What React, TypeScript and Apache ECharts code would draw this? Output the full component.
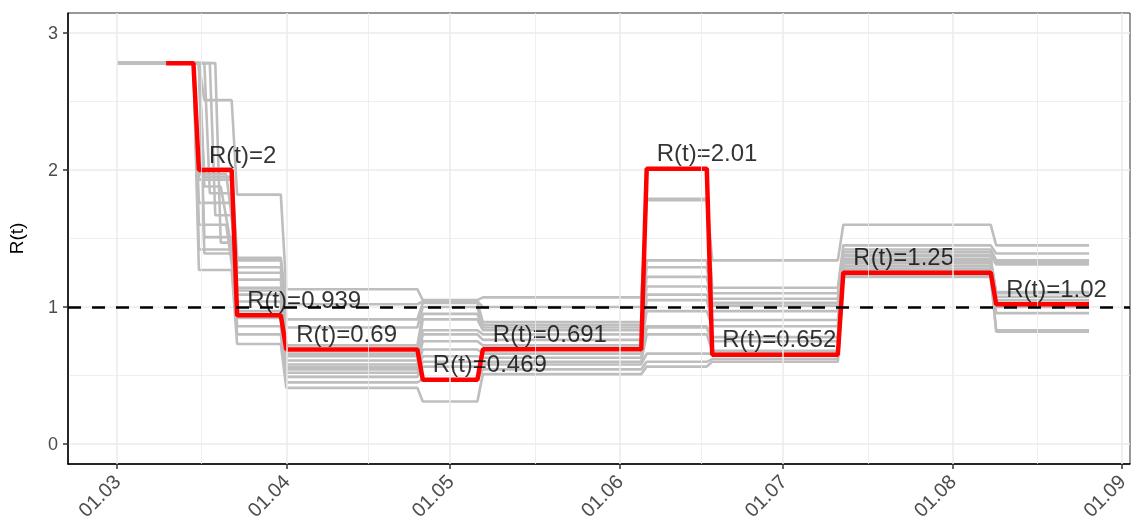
import React, { useEffect, useRef } from "react";
import * as echarts from "echarts";

// ---- data ----
const originDate = "2020-03-01";
const tickDates = ["2020-03-01", "2020-04-01", "2020-05-01", "2020-06-01", "2020-07-01", "2020-08-01", "2020-09-01"];
const yTicks = [0, 1, 2, 3];

// red (final estimate) step segments
const redStarts = ["2020-03-10", "2020-03-16", "2020-03-23", "2020-04-01", "2020-04-26", "2020-05-07", "2020-06-06", "2020-06-18", "2020-07-12", "2020-08-09"];
const redEnds = ["2020-03-15", "2020-03-22", "2020-03-31", "2020-04-25", "2020-05-06", "2020-06-05", "2020-06-17", "2020-07-11", "2020-08-08", "2020-08-26"];
const redValues = [2.78, 2, 0.939, 0.69, 0.469, 0.691, 2.01, 0.652, 1.25, 1.02];

// grey (sensitivity) lines: start value, last day at start value, last day of 2nd period
const grayStart = "2020-03-01";
const grayStartValue = 2.78;
const grayDropDates = ["2020-03-16", "2020-03-15", "2020-03-15", "2020-03-16", "2020-03-15", "2020-03-16", "2020-03-17", "2020-03-15", "2020-03-18", "2020-03-15", "2020-03-16", "2020-03-19", "2020-03-15", "2020-03-16", "2020-03-15"];
const grayP2EndDates = ["2020-03-22", "2020-03-22", "2020-03-21", "2020-03-22", "2020-03-22", "2020-03-20", "2020-03-22", "2020-03-22", "2020-03-22", "2020-03-21", "2020-03-22", "2020-03-22", "2020-03-22", "2020-03-22", "2020-03-22"];
const grayP2 = [2.51, 2.01, 1.97, 1.95, 1.93, 1.88, 1.83, 1.76, 1.67, 1.6, 1.51, 1.47, 1.42, 1.39, 1.27];
const grayP3 = [1.82, 1.36, 1.34, 1.29, 1.25, 1.2, 1.14, 1.12, 1.09, 1.04, 0.97, 0.92, 0.86, 0.8, 0.73];
const grayP4 = [1.13, 1.02, 0.91, 0.85, 0.72, 0.66, 0.64, 0.61, 0.58, 0.56, 0.545, 0.52, 0.49, 0.45, 0.41];
const grayP5 = [1.05, 1.04, 1.03, 1.0, 0.95, 0.91, 0.83, 0.8, 0.75, 0.69, 0.64, 0.6, 0.565, 0.47, 0.31];
const grayP6 = [1.07, 1.0, 0.89, 0.87, 0.85, 0.83, 0.8, 0.76, 0.72, 0.66, 0.63, 0.6, 0.58, 0.545, 0.51];
const grayP7 = [1.79, 1.78, 1.34, 1.29, 1.22, 1.15, 1.09, 1.05, 0.97, 0.86, 0.85, 0.8, 0.66, 0.6, 0.565];
const grayP8 = [1.34, 1.14, 1.1, 1.06, 1.03, 1.01, 0.97, 0.905, 0.86, 0.78, 0.75, 0.68, 0.66, 0.62, 0.6];
const grayP9 = [1.6, 1.45, 1.42, 1.4, 1.38, 1.37, 1.35, 1.34, 1.33, 1.32, 1.3, 1.28, 1.27, 1.23, 1.22];
const grayP10 = [1.45, 1.39, 1.34, 1.33, 1.32, 1.31, 1.11, 1.1, 1.075, 1.05, 1.03, 1.0, 0.955, 0.83, 0.82];
const grayLater = [grayP3, grayP4, grayP5, grayP6, grayP7, grayP8, grayP9, grayP10];

const thresholdValue = 1;

// ---- helpers ----
const toDay = (s: string) => {
  const [y, m, d] = s.split("-").map(Number);
  const [oy, om, od] = originDate.split("-").map(Number);
  return (Date.UTC(y, m - 1, d) - Date.UTC(oy, om - 1, od)) / 86400000;
};
const addDays = (s: string, n: number) => {
  const [y, m, d] = s.split("-").map(Number);
  const t = new Date(Date.UTC(y, m - 1, d + n));
  return t.toISOString().slice(0, 10);
};
const stepPoints = (starts: string[], ends: string[], vals: number[]) => {
  const pts: number[][] = [];
  vals.forEach((v, i) => {
    pts.push([toDay(starts[i]), v]);
    pts.push([toDay(ends[i]), v]);
  });
  return pts;
};

const tickDays = tickDates.map(toDay);
const minorDays = tickDays.slice(1).map((d, i) => (d + tickDays[i]) / 2);
const dayLabel = (day: number) => {
  const idx = tickDays.indexOf(day);
  if (idx < 0) return "";
  const [, m, d] = tickDates[idx].split("-");
  return `${d}.${m}`;
};

const FONT = "'Liberation Sans', Arial, Helvetica, sans-serif";

export default function App() {
  const ref = useRef<HTMLDivElement>(null);
  useEffect(() => {
    const chart = echarts.init(ref.current!, null, { renderer: "svg" });

    const graySeries = grayP2.map((_, i) => {
      const starts = [grayStart, addDays(grayDropDates[i], 1), ...redStarts.slice(2)];
      const ends = [grayDropDates[i], grayP2EndDates[i], ...redEnds.slice(2)];
      const vals = [grayStartValue, grayP2[i], ...grayLater.map((p) => p[i])];
      return {
        type: "line",
        data: stepPoints(starts, ends, vals),
        showSymbol: false,
        symbol: "none",
        silent: true,
        z: 2,
        lineStyle: { color: "#bebebe", width: 2.6 },
      };
    });

    const option: any = {
      animation: false,
      textStyle: { fontFamily: FONT },
      grid: {
        left: 68,
        right: 3,
        top: 13,
        bottom: 62,
        containLabel: false,
        outerBoundsMode: "none",
        show: true,
        borderColor: "#333333",
        borderWidth: 1,
        backgroundColor: "#ffffff",
      },
      xAxis: {
        type: "value",
        min: -8.97,
        max: 185.5,
        splitLine: { show: false },
        axisLine: { show: true, onZero: false, lineStyle: { color: "#000", width: 1.5 } },
        axisTick: { show: true, customValues: tickDays, length: 5, lineStyle: { color: "#333", width: 1.5 } },
        axisLabel: {
          show: true,
          customValues: tickDays,
          formatter: (v: number) => dayLabel(v),
          rotate: 45,
          margin: 14,
          color: "#4d4d4d",
          fontSize: 20,
          fontFamily: FONT,
        },
      },
      yAxis: {
        type: "value",
        min: -0.146,
        max: 3.146,
        splitNumber: 4,
        name: "R(t)",
        nameLocation: "middle",
        nameGap: 42,
        nameTextStyle: { color: "#000", fontSize: 19, fontFamily: FONT },
        axisLine: { show: true, onZero: false, lineStyle: { color: "#000", width: 1.5 } },
        axisTick: { show: true, customValues: yTicks, length: 5, lineStyle: { color: "#333", width: 1.5 } },
        axisLabel: {
          customValues: yTicks,
          color: "#4d4d4d",
          fontSize: 18,
          margin: 10,
          fontFamily: FONT,
        },
        splitLine: { show: true, lineStyle: { color: "#ebebeb", width: 1.5 } },
        minorTick: { show: false, splitNumber: 2 },
        minorSplitLine: { show: true, lineStyle: { color: "#ebebeb", width: 0.8 } },
      },
      series: [
        {
          type: "line",
          data: [],
          silent: true,
          z: 0,
          markLine: {
            silent: true,
            symbol: ["none", "none"],
            label: { show: false },
            animation: false,
            data: [
              ...tickDays.map((d) => ({ xAxis: d, lineStyle: { color: "#ebebeb", width: 1.5, type: "solid" } })),
              ...minorDays.map((d) => ({ xAxis: d, lineStyle: { color: "#ebebeb", width: 0.8, type: "solid" } })),
            ],
          },
        },
        ...graySeries,
        {
          type: "line",
          data: stepPoints(redStarts, redEnds, redValues),
          showSymbol: false,
          symbol: "none",
          silent: true,
          z: 3,
          lineStyle: { color: "#ff0000", width: 4.5 },
        },
        {
          type: "scatter",
          silent: true,
          z: 4,
          symbolSize: 0,
          data: redValues.slice(1).map((v, i) => [toDay(redStarts[i + 1]), v, `R(t)=${v}`]),
          label: {
            show: true,
            position: "top",
            distance: 16,
            align: "left",
            verticalAlign: "middle",
            offset: [10, 0],
            color: "#000",
            fontSize: 24,
            fontFamily: FONT,
            formatter: (p: any) => p.data[2],
          },
        },
        {
          type: "line",
          data: [],
          silent: true,
          z: 5,
          markLine: {
            silent: true,
            symbol: ["none", "none"],
            label: { show: false },
            animation: false,
            data: [{ yAxis: thresholdValue }],
            lineStyle: { color: "#000", width: 2.5, type: [13, 11] },
          },
        },
      ],
    };
    chart.setOption(option);
    return () => chart.dispose();
  }, []);
  return <div ref={ref} style={{ position: "fixed", left: 0, top: 0, width: 1133, height: 526 }} />;
}
